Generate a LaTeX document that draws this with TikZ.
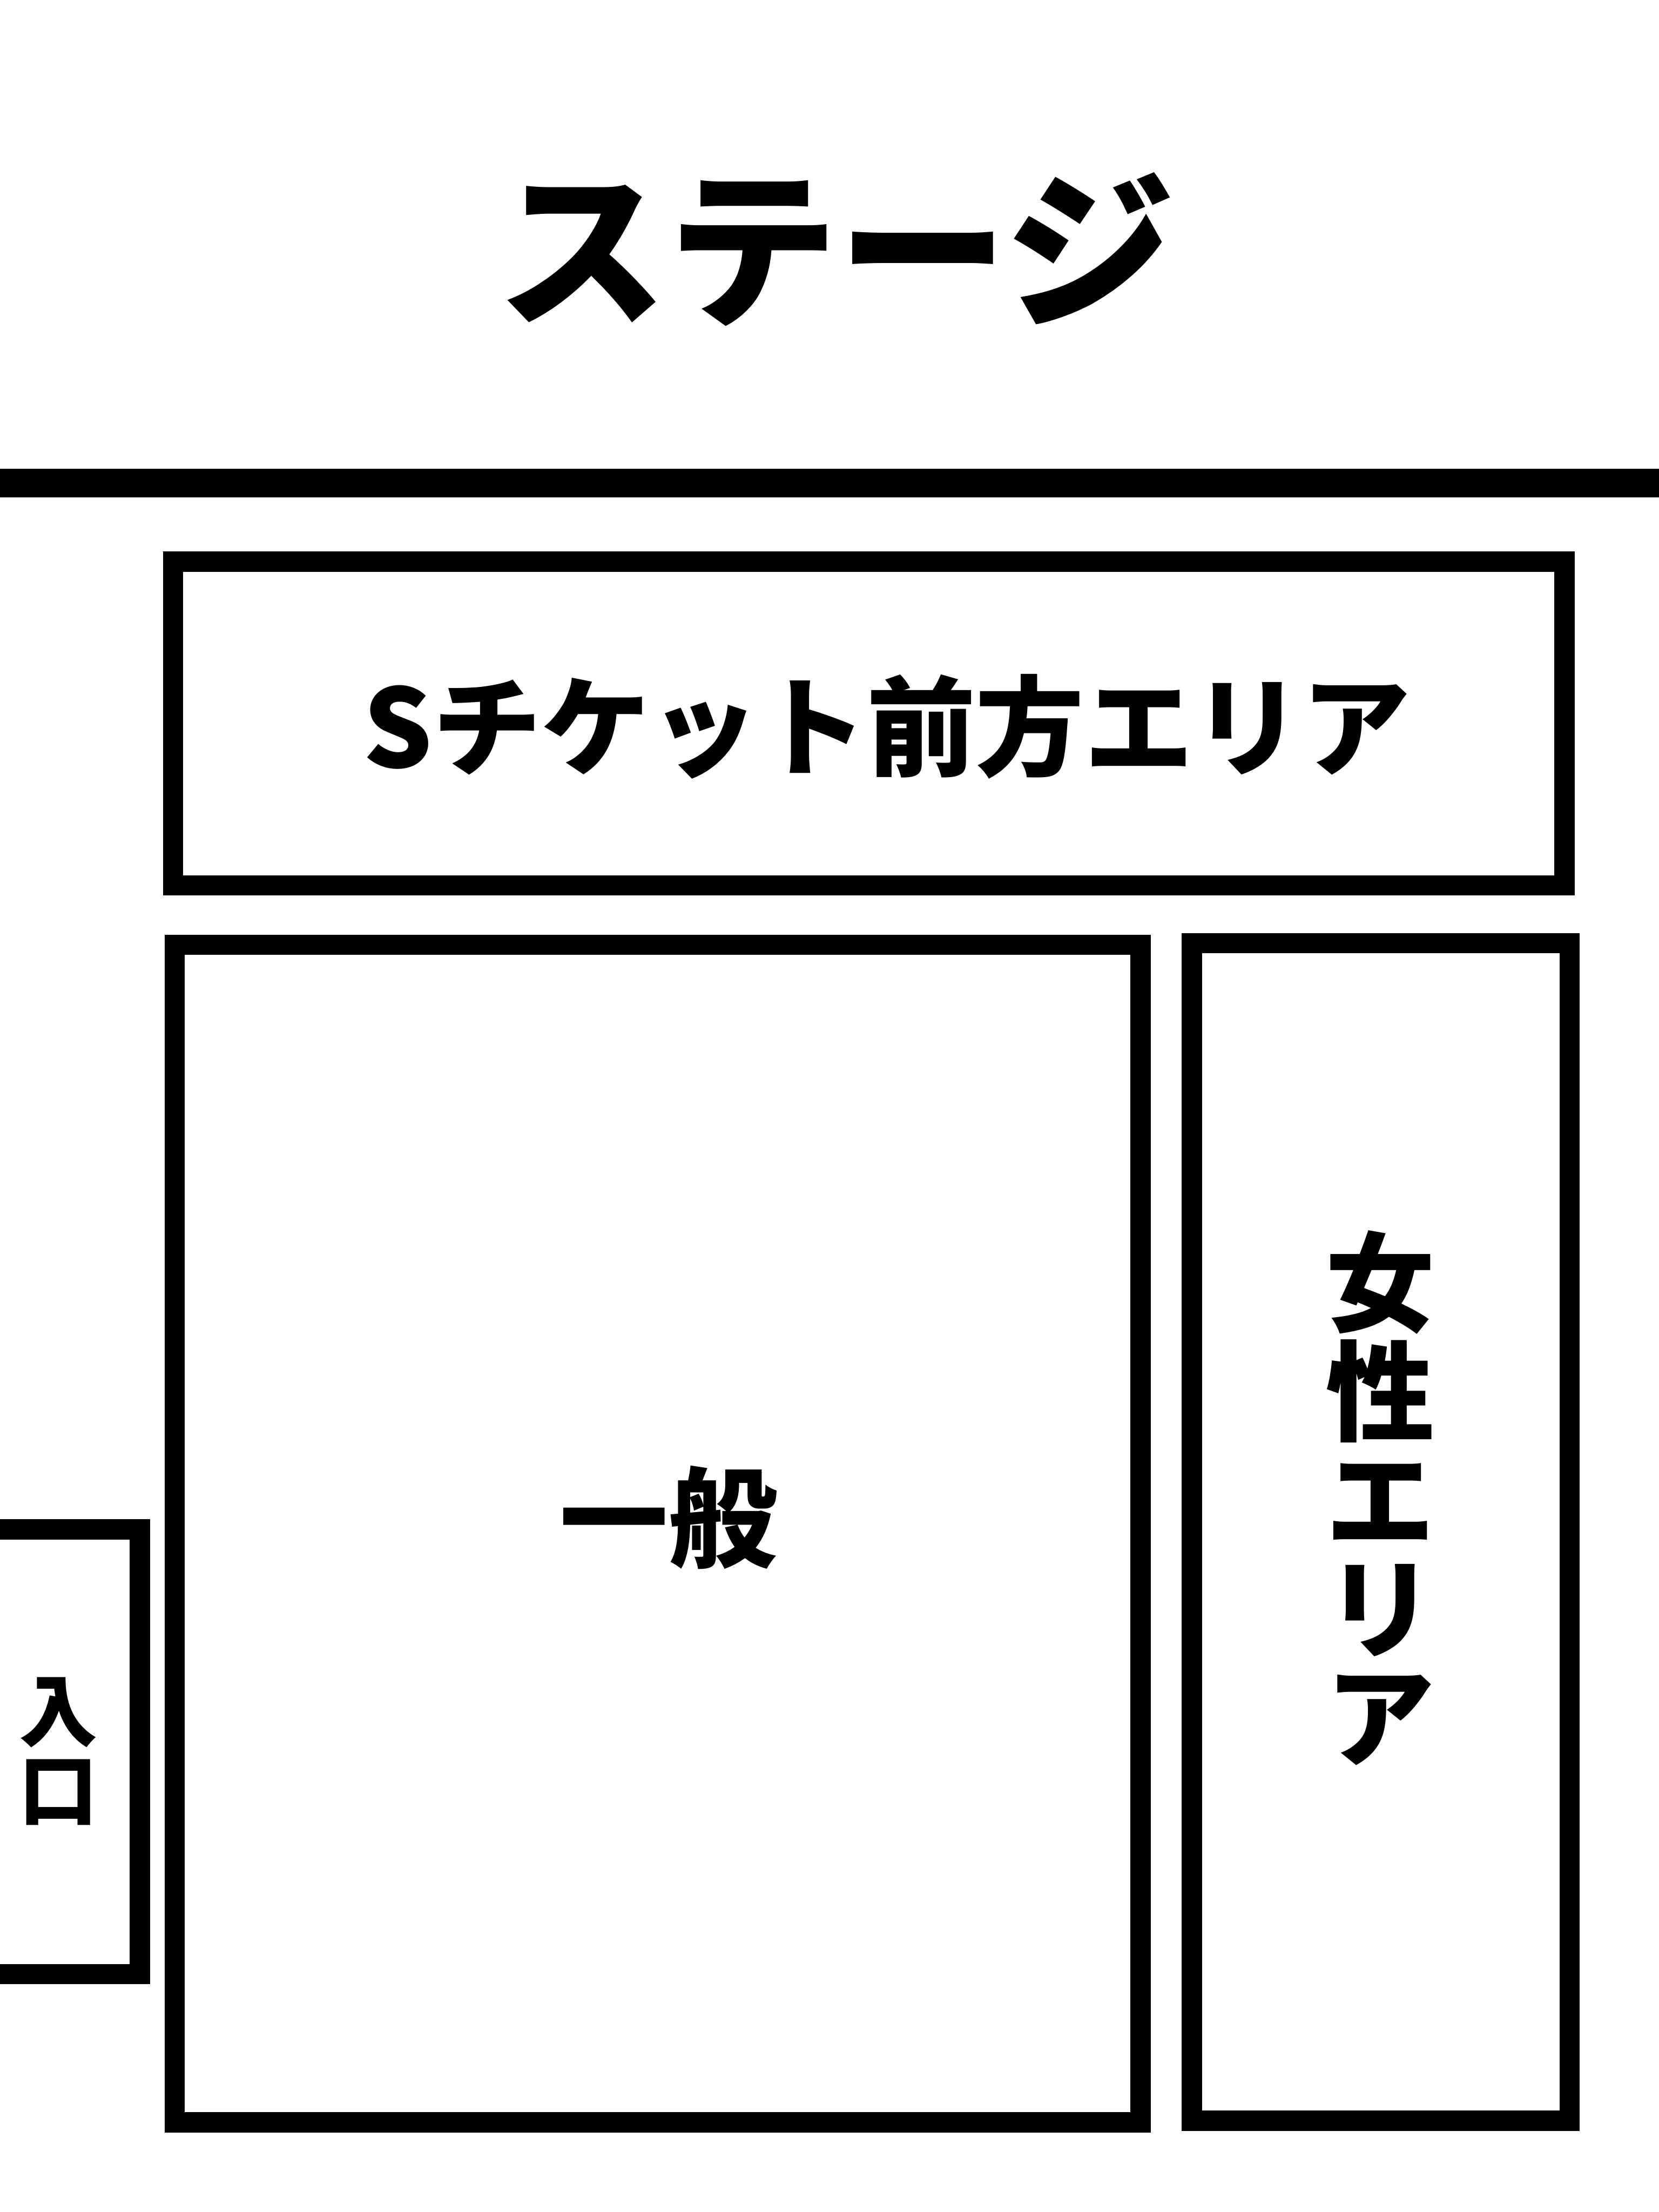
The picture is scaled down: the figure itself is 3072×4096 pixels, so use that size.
\documentclass[tikz,border=0pt]{standalone}
\usepackage{fontspec}
\setmainfont{Noto Sans CJK JP}
\newfontfamily\jpheavy{Noto Sans CJK JP Black}

\tikzset{
  wall/.style={line width=15.1pt},
  zone/.style={line width=10.6pt},
  bigtitle/.style={font=\jpheavy\fontsize{89.6pt}{89.6pt}\selectfont, inner sep=0pt},
  arealabel/.style={font=\jpheavy\fontsize{57.2pt}{57.2pt}\selectfont, inner sep=0pt, align=center},
  doorlabel/.style={font=\bfseries\fontsize{41.3pt}{41.3pt}\selectfont, inner sep=0pt, align=center}
}

\begin{document}
\begin{tikzpicture}[x=0.01cm, y=-0.01cm]
	\useasboundingbox (0,0) rectangle (3072,4096);

	% stage
	\node (stage) at (1548,462) [bigtitle] {ステージ};
	\draw[wall] (-20,894.7)--(3092,894.7);

	% areas
	\draw[zone] (320.5,1040) rectangle (2897,1639.5);
	\draw[zone] (323.5,1749.5) rectangle (2112,3930);
	\draw[zone] (2207,1746.3) rectangle (2906.5,3927);
	\draw[zone] (-60,2832)--(259,2832)--(259,3655.6)--(-60,3655.6);

	\node (sarea) at (1642,1345) [arealabel] {Sチケット前方エリア};
	\node (general) at (1238,2810) [arealabel] {一般};
	\node (ladies) at (2556,2774) [arealabel] {女\\性\\エ\\リ\\ア};
	\node (entrance) at (108,3243) [doorlabel] {入\\口};
\end{tikzpicture}
\end{document}
